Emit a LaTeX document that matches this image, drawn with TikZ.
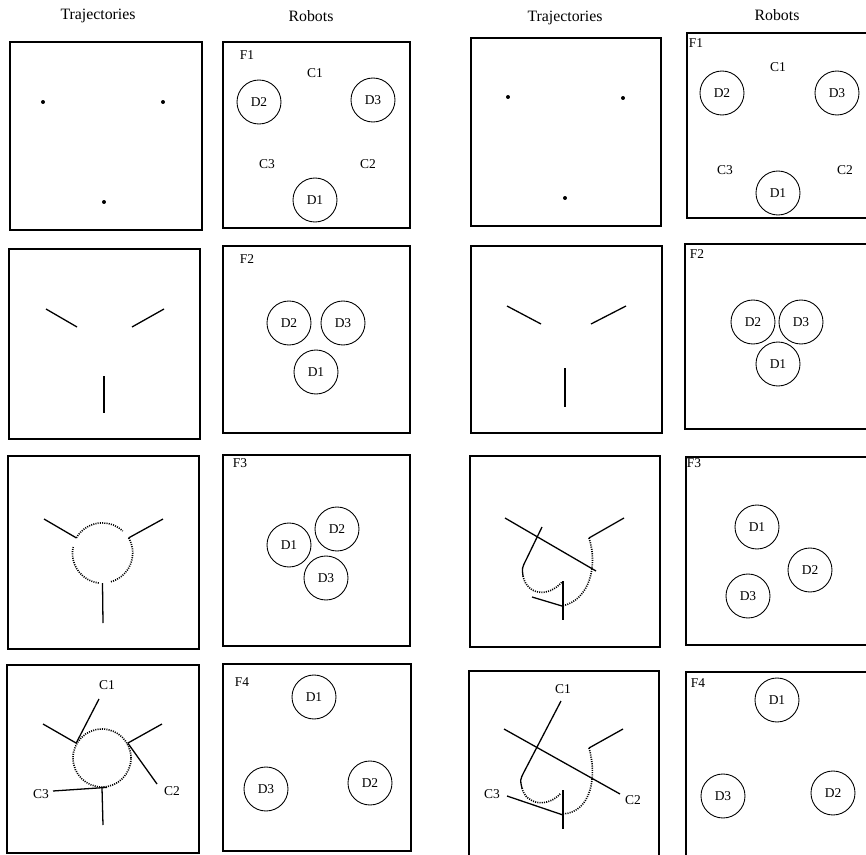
\documentclass[tikz,border=0pt]{standalone}
\usepackage{fontspec}
\setmainfont{Liberation Serif}
\usepackage{tikz}
\usetikzlibrary{positioning}

\begin{document}
\begin{tikzpicture}[
  x=0.3mm,y=-0.3mm,
  head/.style={font=\fontsize{13.5}{16}\selectfont},
  lbl/.style={font=\fontsize{11.5}{13}\selectfont,inner sep=1pt},
  panel/.style={draw,line width=0.9pt},
  robot/.style={circle,draw,line width=0.75pt,minimum size=1.32cm,inner sep=0pt,
                font=\fontsize{11.5}{13}\selectfont},
  ring/.style={circle,minimum size=#1,inner sep=0pt},
  trail/.style={line width=1.1pt},
  dots/.style={line width=1.4pt,dash pattern=on 0.9pt off 1pt}
]
\useasboundingbox (0,0) rectangle (866,855);

% column heads
\node[head] (h1) at (98,16) {Trajectories};
\node[head] (h2) at (311,16) {Robots};
\node[head] (h3) at (565,18) {Trajectories};
\node[head] (h4) at (777,15) {Robots};

% panels
\draw[panel] (10,42) rectangle (202,230);
\draw[panel] (223,42) rectangle (410,228);
\draw[panel] (471,38) rectangle (661,226);
\draw[panel] (687,33) rectangle (880,218);

\draw[panel] (9,249) rectangle (200,439);
\draw[panel] (223,246) rectangle (410,433);
\draw[panel] (471,246) rectangle (662,433);
\draw[panel] (685,244) rectangle (880,429);

\draw[panel] (8,456) rectangle (199,649);
\draw[panel] (223,455) rectangle (410,646);
\draw[panel] (470,456) rectangle (660,647);
\draw[panel] (686,457) rectangle (880,645);

\draw[panel] (7,665) rectangle (199,853);
\draw[panel] (223,664) rectangle (411,851);
\draw[panel] (469,671) rectangle (659,870);
\draw[panel] (686,672) rectangle (880,870);

% row 1
\foreach \px/\py in {43/102,163/102,104/202,508/97,623/98,565/198}
  \fill (\px,\py) circle (1.7pt);

\node[lbl] (f1a) at (247,55) {F1};
\node[lbl] (c1a) at (315,73) {C1};
\node[lbl] (c3a) at (267,164) {C3};
\node[lbl] (c2a) at (368,164) {C2};
\node[robot] (d2a) at (259,102) {D2};
\node[robot] (d3a) at (373,100) {D3};
\node[robot] (d1a) at (315,200) {D1};

\node[lbl] (f1b) at (696,43) {F1};
\node[lbl] (c1b) at (778,67) {C1};
\node[lbl] (c3b) at (725,170) {C3};
\node[lbl] (c2b) at (845,170) {C2};
\node[robot] (d2b) at (722,93) {D2};
\node[robot] (d3b) at (837,93) {D3};
\node[robot] (d1b) at (778,193) {D1};

% row 2
\draw[trail] (46,309) -- (77,327);
\draw[trail] (132,327) -- (164,309);
\draw[trail] (104,376) -- (104,413);

\node[lbl] (f2a) at (247,259) {F2};
\node[robot] (d2c) at (289,323) {D2};
\node[robot] (d3c) at (343,323) {D3};
\node[robot] (d1c) at (316,372) {D1};

\draw[trail] (507,306) -- (541,324);
\draw[trail] (591,324) -- (626,306);
\draw[trail] (565,368) -- (565,407);

\node[lbl] (f2b) at (697,254) {F2};
\node[robot] (d2d) at (753,322) {D2};
\node[robot] (d3d) at (801,322) {D3};
\node[robot] (d1d) at (778,364) {D1};

% row 3
\node[ring=1.8cm] (o3) at (102.5,553) {};
\draw[trail] (44,519) -- (o3.150);
\draw[trail] (163,519) -- (o3.30);
\draw[trail] (o3.-90) -- (103,623);
\draw[dots] (o3.150) arc[start angle=150,end angle=47,radius=0.9cm];
\draw[dots] (o3.30) arc[start angle=30,end angle=-75,radius=0.9cm];
\draw[dots] (o3.-97) arc[start angle=-97,end angle=-192,radius=0.9cm];

\node[lbl] (f3a) at (240,463) {F3};
\node[robot] (d1e) at (289,545) {D1};
\node[robot] (d2e) at (337,529) {D2};
\node[robot] (d3e) at (326,578) {D3};

\draw[trail] (505,518) -- (596,571);
\draw[trail] (624,518) -- (589,538);
\draw[dots] (589,538) .. controls (598,565) and (590,600) .. (562,606);
\draw[trail] (532,597) -- (562,606);
\draw[trail] (563,581) -- (563,620);
\draw[trail] (542,527) -- (526,560) .. controls (522,568) .. (523,576);
\draw[dots] (523,576) .. controls (527,595) and (548,598) .. (562,582);

\node[lbl] (f3b) at (694,463) {F3};
\node[robot] (d1f) at (757,527) {D1};
\node[robot] (d2f) at (810,570) {D2};
\node[robot] (d3f) at (748,596) {D3};

% row 4
\node[ring=1.74cm,draw,dots] (o4) at (102,758) {};
\node[lbl] (c1c) at (107,685) {C1};
\node[lbl] (c2c) at (172,791) {C2};
\node[lbl] (c3c) at (41,794) {C3};
\draw[trail] (43,724) -- (o4.150);
\draw[trail] (162,724) -- (o4.30);
\draw[trail] (o4.-90) -- (103,825);
\draw[trail] (o4.150) -- (99,699);
\draw[trail] (o4.30) -- (157,784);
\draw[trail] (o4.-80) -- (53,791);

\node[lbl] (f4a) at (242,682) {F4};
\node[robot] (d1g) at (314,697) {D1};
\node[robot] (d3g) at (266,789) {D3};
\node[robot] (d2g) at (370,783) {D2};

\node[lbl] (c1d) at (563,689) {C1};
\node[lbl] (c2d) at (633,800) {C2};
\node[lbl] (c3d) at (492,794) {C3};
\draw[trail] (561,701) -- (524,772) .. controls (520,780) .. (522,788);
\draw[dots] (522,788) .. controls (526,805) and (548,808) .. (561,793);
\draw[trail] (563,790) -- (563,829);
\draw[trail] (504,729) -- (620,794);
\draw[trail] (623,729) -- (589,748);
\draw[dots] (589,748) .. controls (597,775) and (592,812) .. (563,814);
\draw[trail] (507,796) -- (563,815);

\node[lbl] (f4b) at (698,683) {F4};
\node[robot] (d1h) at (777,700) {D1};
\node[robot] (d3h) at (723,796) {D3};
\node[robot] (d2h) at (833,793) {D2};
\end{tikzpicture}
\end{document}
